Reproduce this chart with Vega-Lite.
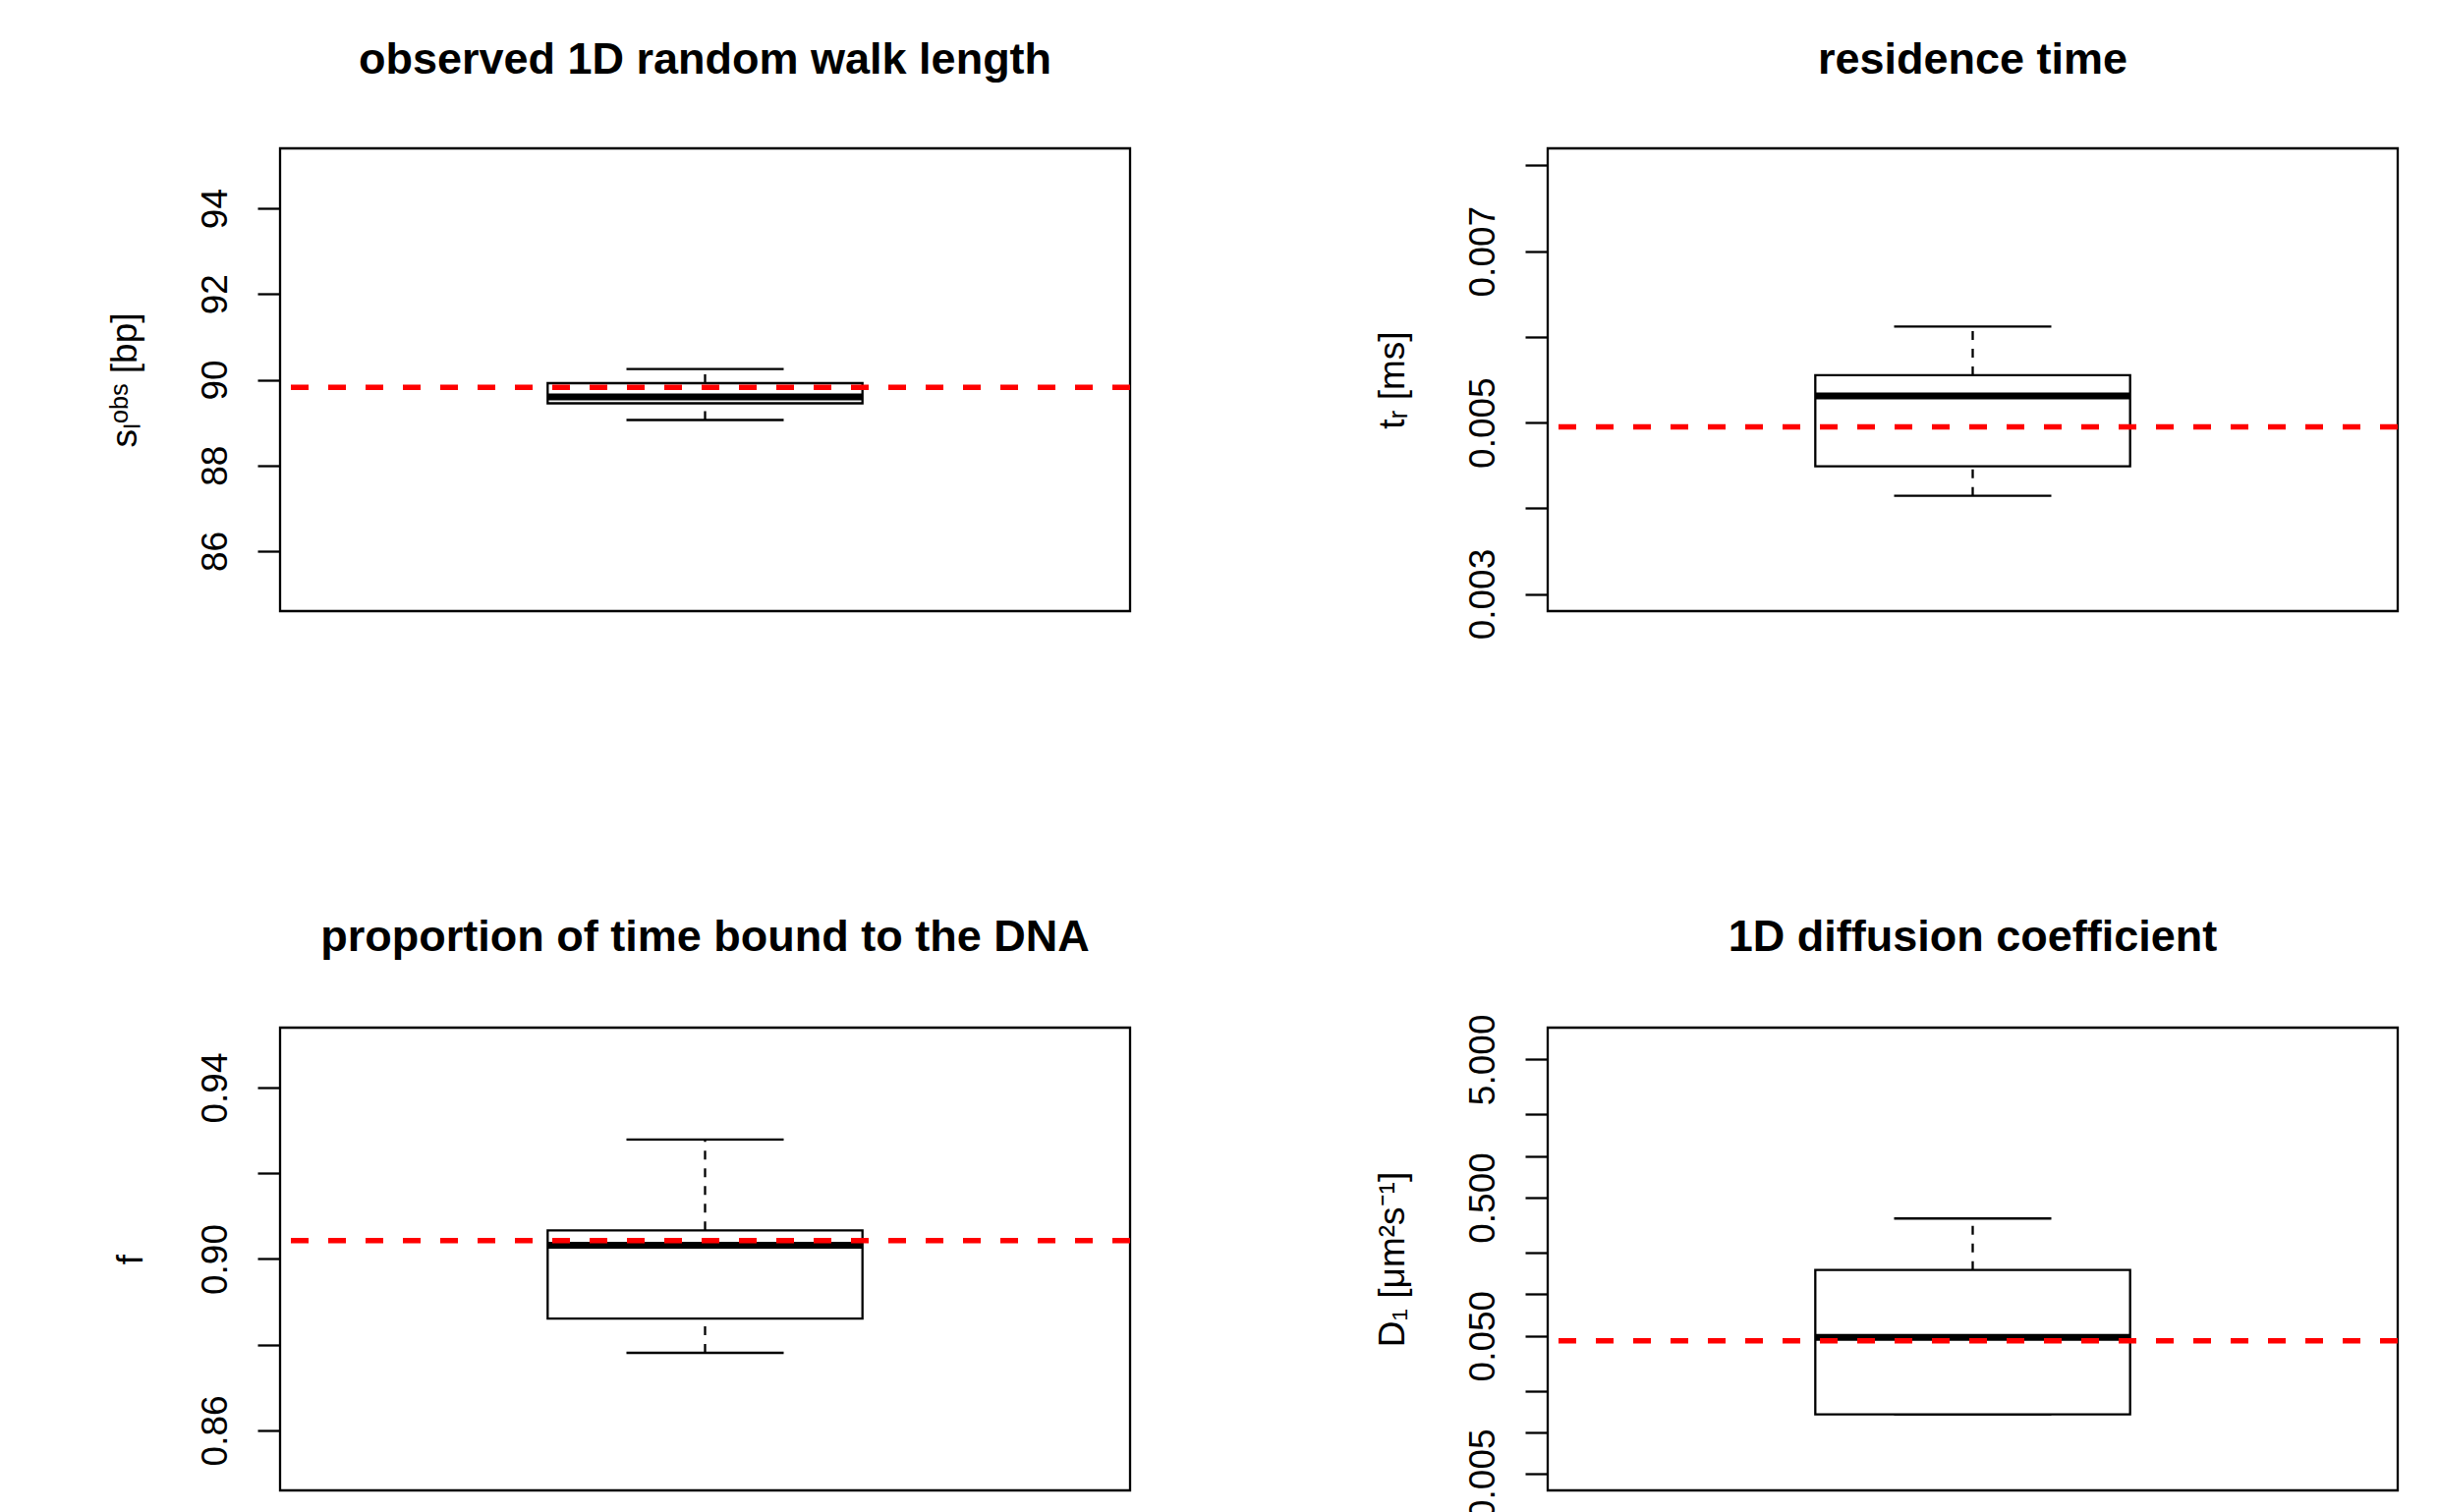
{
  "$schema": "https://vega.github.io/schema/vega-lite/v6.json",
  "background": "white",
  "padding": {"left": 106, "top": 37, "right": 0, "bottom": 0},
  "bounds": "flush",
  "columns": 2,
  "spacing": {"row": 424, "column": 425},
  "config": {
    "font": "Liberation Sans",
    "view": {"stroke": "black", "strokeWidth": 2.3, "fill": "white"},
    "axis": {
      "domain": false, "grid": false, "ticks": true, "tickSize": 23, "tickWidth": 2.3, "tickColor": "black",
      "labelFont": "Liberation Sans", "labelFontSize": 37, "labelColor": "black", "labelAngle": 270,
      "labelAlign": "center", "labelBaseline": "alphabetic", "labelPadding": 32, "labelOverlap": false, "labelFlush": false,
      "titleFont": "Liberation Sans", "titleFontSize": 37, "titleFontWeight": "normal", "titleColor": "black",
      "titleAngle": 270, "titleBaseline": "alphabetic", "titlePadding": 62
    },
    "title": {"font": "Liberation Sans", "fontSize": 45, "fontWeight": "bold", "color": "black", "frame": "group", "anchor": "middle", "baseline": "alphabetic", "offset": 67}
  },
  "concat": [
    {
      "width": 865, "height": 471,
      "title": {"text": "observed 1D random walk length"},
      "data": {"values": [{"grp": "1", "lower": 89.06, "q1": 89.45, "median": 89.6, "q3": 89.92, "upper": 90.25, "ref": 89.82}]},
      "layer": [
        {"mark": {"type": "rule", "stroke": "black", "strokeWidth": 2.3, "strokeDash": [9, 9]},
         "encoding": {"x": {"field": "grp", "type": "nominal", "scale": {"type": "band", "paddingInner": 0, "paddingOuter": 0}, "axis": null},
           "y": {"field": "q3", "type": "quantitative", "scale": {"domain": [84.6, 95.4], "nice": false, "zero": false}, "axis": {"title": "sₗᵒᵇˢ [bp]", "values": [86, 88, 90, 92, 94], "format": "d"}},
           "y2": {"field": "upper"}}},
        {"mark": {"type": "rule", "stroke": "black", "strokeWidth": 2.3, "strokeDash": [9, 9]},
         "encoding": {"x": {"field": "grp", "type": "nominal"}, "y": {"field": "lower", "type": "quantitative"}, "y2": {"field": "q1"}}},
        {"mark": {"type": "tick", "size": 160, "thickness": 2.3, "color": "black", "opacity": 1},
         "encoding": {"x": {"field": "grp", "type": "nominal"}, "y": {"field": "upper", "type": "quantitative"}}},
        {"mark": {"type": "tick", "size": 160, "thickness": 2.3, "color": "black", "opacity": 1},
         "encoding": {"x": {"field": "grp", "type": "nominal"}, "y": {"field": "lower", "type": "quantitative"}}},
        {"mark": {"type": "bar", "width": {"band": 0.37037}, "fill": "white", "stroke": "black", "strokeWidth": 2.3},
         "encoding": {"x": {"field": "grp", "type": "nominal"}, "y": {"field": "q1", "type": "quantitative"}, "y2": {"field": "q3"}}},
        {"mark": {"type": "tick", "size": 320, "thickness": 7, "color": "black", "opacity": 1},
         "encoding": {"x": {"field": "grp", "type": "nominal"}, "y": {"field": "median", "type": "quantitative"}}},
        {"mark": {"type": "rule", "stroke": "red", "strokeWidth": 5.5, "strokeDash": [18, 20]},
         "encoding": {"y": {"field": "ref", "type": "quantitative"}}}
      ]
    },
    {
      "width": 865, "height": 471,
      "title": {"text": "residence time"},
      "data": {"values": [{"grp": "1", "lower": 0.004145, "q1": 0.004489, "median": 0.005311, "q3": 0.005552, "upper": 0.006121, "ref": 0.004951}]},
      "layer": [
        {"mark": {"type": "rule", "stroke": "black", "strokeWidth": 2.3, "strokeDash": [9, 9]},
         "encoding": {"x": {"field": "grp", "type": "nominal", "scale": {"type": "band", "paddingInner": 0, "paddingOuter": 0}, "axis": null},
           "y": {"field": "q3", "type": "quantitative", "scale": {"domain": [0.0028, 0.0082], "nice": false, "zero": false}, "axis": {"title": "tᵣ [ms]", "values": [0.003, 0.004, 0.005, 0.006, 0.007, 0.008], "labelExpr": "(round(datum.value*1000) % 2 == 1) ? format(datum.value, '.3f') : ''"}},
           "y2": {"field": "upper"}}},
        {"mark": {"type": "rule", "stroke": "black", "strokeWidth": 2.3, "strokeDash": [9, 9]},
         "encoding": {"x": {"field": "grp", "type": "nominal"}, "y": {"field": "lower", "type": "quantitative"}, "y2": {"field": "q1"}}},
        {"mark": {"type": "tick", "size": 160, "thickness": 2.3, "color": "black", "opacity": 1},
         "encoding": {"x": {"field": "grp", "type": "nominal"}, "y": {"field": "upper", "type": "quantitative"}}},
        {"mark": {"type": "tick", "size": 160, "thickness": 2.3, "color": "black", "opacity": 1},
         "encoding": {"x": {"field": "grp", "type": "nominal"}, "y": {"field": "lower", "type": "quantitative"}}},
        {"mark": {"type": "bar", "width": {"band": 0.37037}, "fill": "white", "stroke": "black", "strokeWidth": 2.3},
         "encoding": {"x": {"field": "grp", "type": "nominal"}, "y": {"field": "q1", "type": "quantitative"}, "y2": {"field": "q3"}}},
        {"mark": {"type": "tick", "size": 320, "thickness": 7, "color": "black", "opacity": 1},
         "encoding": {"x": {"field": "grp", "type": "nominal"}, "y": {"field": "median", "type": "quantitative"}}},
        {"mark": {"type": "rule", "stroke": "red", "strokeWidth": 5.5, "strokeDash": [18, 20]},
         "encoding": {"y": {"field": "ref", "type": "quantitative"}}}
      ]
    },
    {
      "width": 865, "height": 471,
      "title": {"text": "proportion of time bound to the DNA", "offset": 69},
      "data": {"values": [{"grp": "1", "lower": 0.8781, "q1": 0.8861, "median": 0.9032, "q3": 0.9067, "upper": 0.9279, "ref": 0.9043}]},
      "layer": [
        {"mark": {"type": "rule", "stroke": "black", "strokeWidth": 2.3, "strokeDash": [9, 9]},
         "encoding": {"x": {"field": "grp", "type": "nominal", "scale": {"type": "band", "paddingInner": 0, "paddingOuter": 0}, "axis": null},
           "y": {"field": "q3", "type": "quantitative", "scale": {"domain": [0.846, 0.954], "nice": false, "zero": false}, "axis": {"title": "f", "titlePadding": 56, "values": [0.86, 0.88, 0.9, 0.92, 0.94], "labelExpr": "(round(datum.value*100) % 4 == 2) ? format(datum.value, '.2f') : ''"}},
           "y2": {"field": "upper"}}},
        {"mark": {"type": "rule", "stroke": "black", "strokeWidth": 2.3, "strokeDash": [9, 9]},
         "encoding": {"x": {"field": "grp", "type": "nominal"}, "y": {"field": "lower", "type": "quantitative"}, "y2": {"field": "q1"}}},
        {"mark": {"type": "tick", "size": 160, "thickness": 2.3, "color": "black", "opacity": 1},
         "encoding": {"x": {"field": "grp", "type": "nominal"}, "y": {"field": "upper", "type": "quantitative"}}},
        {"mark": {"type": "tick", "size": 160, "thickness": 2.3, "color": "black", "opacity": 1},
         "encoding": {"x": {"field": "grp", "type": "nominal"}, "y": {"field": "lower", "type": "quantitative"}}},
        {"mark": {"type": "bar", "width": {"band": 0.37037}, "fill": "white", "stroke": "black", "strokeWidth": 2.3},
         "encoding": {"x": {"field": "grp", "type": "nominal"}, "y": {"field": "q1", "type": "quantitative"}, "y2": {"field": "q3"}}},
        {"mark": {"type": "tick", "size": 320, "thickness": 7, "color": "black", "opacity": 1},
         "encoding": {"x": {"field": "grp", "type": "nominal"}, "y": {"field": "median", "type": "quantitative"}}},
        {"mark": {"type": "rule", "stroke": "red", "strokeWidth": 5.5, "strokeDash": [18, 20]},
         "encoding": {"y": {"field": "ref", "type": "quantitative"}}}
      ]
    },
    {
      "width": 865, "height": 471,
      "title": {"text": "1D diffusion coefficient", "offset": 55},
      "data": {"values": [{"grp": "1", "lower": 0.0135, "q1": 0.0135, "median": 0.0486, "q3": 0.1495, "upper": 0.353, "ref": 0.046}]},
      "layer": [
        {"mark": {"type": "rule", "stroke": "black", "strokeWidth": 2.3, "strokeDash": [9, 9]},
         "encoding": {"x": {"field": "grp", "type": "nominal", "scale": {"type": "band", "paddingInner": 0, "paddingOuter": 0}, "axis": null},
           "y": {"field": "q3", "type": "quantitative", "scale": {"type": "log", "domain": [0.0038, 8.49], "nice": false, "zero": false}, "axis": {"title": "D₁ [μm²s⁻¹]", "values": [0.005, 0.01, 0.02, 0.05, 0.1, 0.2, 0.5, 1, 2, 5], "labelExpr": "(datum.value == 0.005 || datum.value == 0.05 || datum.value == 0.5 || datum.value == 5) ? format(datum.value, '.3f') : ''"}},
           "y2": {"field": "upper"}}},
        {"mark": {"type": "rule", "stroke": "black", "strokeWidth": 2.3, "strokeDash": [9, 9]},
         "encoding": {"x": {"field": "grp", "type": "nominal"}, "y": {"field": "lower", "type": "quantitative"}, "y2": {"field": "q1"}}},
        {"mark": {"type": "tick", "size": 160, "thickness": 2.3, "color": "black", "opacity": 1},
         "encoding": {"x": {"field": "grp", "type": "nominal"}, "y": {"field": "upper", "type": "quantitative"}}},
        {"mark": {"type": "tick", "size": 160, "thickness": 2.3, "color": "black", "opacity": 1},
         "encoding": {"x": {"field": "grp", "type": "nominal"}, "y": {"field": "lower", "type": "quantitative"}}},
        {"mark": {"type": "bar", "width": {"band": 0.37037}, "fill": "white", "stroke": "black", "strokeWidth": 2.3},
         "encoding": {"x": {"field": "grp", "type": "nominal"}, "y": {"field": "q1", "type": "quantitative"}, "y2": {"field": "q3"}}},
        {"mark": {"type": "tick", "size": 320, "thickness": 7, "color": "black", "opacity": 1},
         "encoding": {"x": {"field": "grp", "type": "nominal"}, "y": {"field": "median", "type": "quantitative"}}},
        {"mark": {"type": "rule", "stroke": "red", "strokeWidth": 5.5, "strokeDash": [18, 20]},
         "encoding": {"y": {"field": "ref", "type": "quantitative"}}}
      ]
    }
  ]
}
